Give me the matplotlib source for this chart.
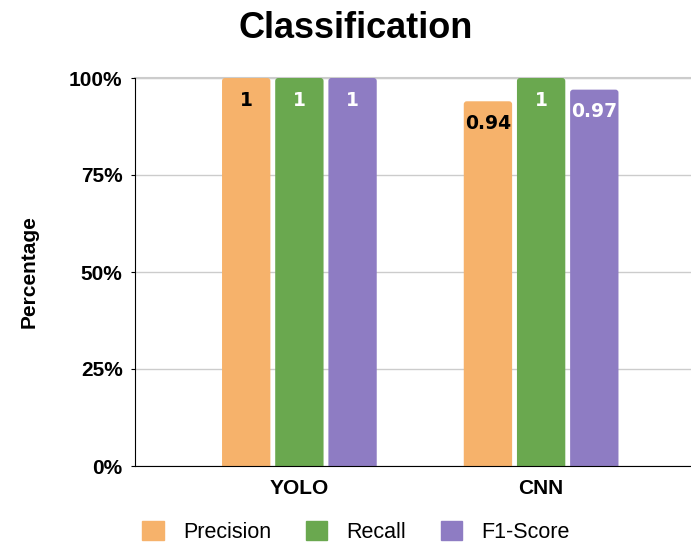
import matplotlib
matplotlib.use("Agg")
import matplotlib.pyplot as plt
from matplotlib.patches import Patch, FancyBboxPatch
import numpy as np

plt.rcParams['font.family'] = ['Liberation Sans', 'DejaVu Sans']

categories = ["YOLO", "CNN"]
series_names = ["Precision", "Recall", "F1-Score"]
precision = [1.0, 0.94]
recall = [1.0, 1.0]
f1 = [1.0, 0.97]
label_texts = [["1", "0.94"], ["1", "1"], ["1", "0.97"]]
colors = ["#F6B26B", "#6AA84F", "#8E7CC3"]
label_colors = ["black", "white", "white"]
yticks = [0, 0.25, 0.5, 0.75, 1.0]
ytick_labels = ["0%", "25%", "50%", "75%", "100%"]

fig = plt.figure(figsize=(6.91, 5.42), dpi=100)
ax = fig.add_axes([135/691, 1-466/542, (691-135)/691, (466-78)/542])

x = np.arange(len(categories))
width = 0.2
step = 0.22
values = [precision, recall, f1]
xlim = (-0.68, 1.62)
px_x = ax.get_position().width * 691 / (xlim[1] - xlim[0])
px_y = ax.get_position().height * 542 / 1.0
r_px = 3.0
ext = 0.03
for i, (vals, col) in enumerate(zip(values, colors)):
    pos = x + (i - 1) * step
    bars = ax.bar(pos, vals, width=width, color=col, zorder=3)
    for b in bars:
        b.set_visible(False)
        fb = FancyBboxPatch((b.get_x(), b.get_y() - ext), b.get_width(), b.get_height() + ext,
                            boxstyle=f"round,pad=0,rounding_size={r_px/px_x}",
                            mutation_aspect=(r_px/px_y)/(r_px/px_x),
                            facecolor=col, edgecolor="none", zorder=3)
        ax.add_patch(fb)
        fb.set_clip_path(ax.patch)
    for p, v, t in zip(pos, vals, label_texts[i]):
        ax.annotate(t, (p, v), xytext=(0, -22), textcoords="offset pixels",
                    ha="center", va="center", fontsize=13.5, fontweight="bold",
                    family="DejaVu Sans", color=label_colors[i], zorder=4)

ax.set_xlim(*xlim)
ax.set_ylim(0, 1.0)
ax.set_yticks(yticks)
ax.set_yticklabels(ytick_labels, fontsize=15, fontweight="bold")
ax.set_xticks(x)
ax.set_xticklabels(categories, fontsize=15, fontweight="bold")
ax.tick_params(axis="x", length=0, pad=9)
ax.tick_params(axis="y", length=3, pad=6)
ax.yaxis.grid(True, color="#CCCCCC", linewidth=1, zorder=0)
ax.spines["top"].set_visible(False)
ax.spines["right"].set_visible(False)
ax.spines["left"].set_color("black")
ax.spines["bottom"].set_color("black")
ax.spines["bottom"].set_zorder(5)
ax.set_ylabel("Percentage", fontsize=15, fontweight="bold", labelpad=22)
ax.axhline(1.0, color="#CCCCCC", linewidth=1.5, zorder=1, clip_on=False)

fig.text(356/691, 1-29/542, "Classification", ha="center", va="center",
         fontsize=26, fontweight="bold")

handles = [Patch(facecolor=c, edgecolor=c) for c in colors]
fig.legend(handles, series_names, loc="center", bbox_to_anchor=(356/691, 1-532/542),
           ncol=3, frameon=False, fontsize=15.5, handlelength=1.0, handleheight=1.0,
           columnspacing=1.6, handletextpad=0.9)

fig.savefig("out.png", dpi=100)
